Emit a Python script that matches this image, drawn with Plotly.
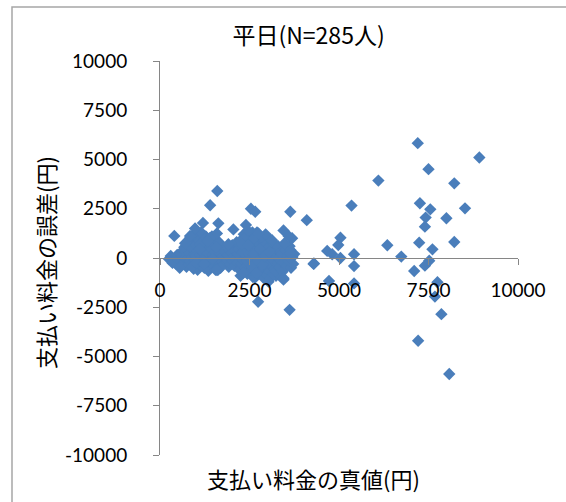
import plotly.graph_objects as go

# 支払い料金の真値 (円) と 誤差 (円) — 平日 285 人分
true_yen = [
    # 0–500
    250, 300, 380, 420, 450, 480, 350, 500,
    # 500–800
    520, 560, 600, 620, 650, 680, 700, 720, 740, 760, 780, 790, 550, 680,
    # 800–1100
    820, 840, 860, 880, 900, 920, 940, 960, 980, 1000, 1020, 1040, 1060, 1080, 1100,
    850, 950, 1000, 1050, 900,
    # 1100–1400
    1120, 1140, 1160, 1180, 1200, 1220, 1240, 1260, 1280, 1300, 1320, 1340, 1360, 1380,
    1400, 1150, 1250, 1350, 1200, 1300, 1120, 1390,
    # 1400–1800
    1420, 1440, 1460, 1480, 1500, 1520, 1540, 1560, 1580, 1600, 1620, 1640, 1660, 1680,
    1700, 1720, 1740, 1760, 1780, 1450, 1550, 1650, 1750, 1800,
    # 1800–2200
    1820, 1840, 1860, 1880, 1900, 1920, 1940, 1960, 1980, 2000, 2020, 2040, 2060, 2080,
    2100, 2120, 2140, 2160, 2180, 2200,
    # 2200–2600
    2220, 2240, 2260, 2280, 2300, 2320, 2340, 2360, 2380, 2400, 2420, 2440, 2460, 2480,
    2500, 2520, 2540, 2560, 2580, 2600, 2250, 2310, 2370, 2430, 2490, 2550, 2590, 2290,
    2450, 2530,
    # 2600–3000
    2620, 2640, 2660, 2680, 2700, 2720, 2740, 2760, 2780, 2800, 2820, 2840, 2860, 2880,
    2900, 2920, 2940, 2960, 2980, 3000, 2650, 2710, 2770, 2830, 2890, 2950, 2610, 2690,
    2850, 2970,
    # 3000–3400
    3020, 3040, 3060, 3080, 3100, 3120, 3140, 3160, 3180, 3200, 3220, 3240, 3260, 3280,
    3300, 3320, 3340, 3360, 3380, 3400,
    # 3400–3800
    3420, 3460, 3500, 3540, 3560, 3600, 3620, 3660, 3700, 3720, 3750, 3480,
    # additional low-value respondents
    2330, 2470, 2570, 2630, 2730, 2790, 2870, 2930, 3050, 3150, 1010, 1110, 1230, 1330,
    1470, 1570, 1690, 1910,
    # larger errors below 4000
    1600, 1400, 2540, 2660, 3640, 400, 980, 1200, 1630, 2050, 2400, 700, 840, 1590,
    3450, 3690, 3590, 3130, 2750, 3640, 3640, 3640, 4100,
    1590, 2700, 3080, 3450, 3450, 3030, 2740, 3620,
    # 4000–5500
    5350, 5040, 4980, 4670, 4810, 5040, 5420, 4290, 5420, 4720, 5420, 4300,
    # 6000 and above
    7200, 8920, 7500, 6100, 8220, 7260, 7550, 8520, 7420, 8000, 7400, 6350, 7240, 8220,
    7610, 6740, 7520, 7400, 7100, 7750, 7680, 7860, 7210, 8080,
]

error_yen = [
    # 0–500
    -50, 100, -150, 0, -300, 150, -250, 50,
    # 500–800
    -100, 200, -350, 100, 400, -200, 0, 300, -450, 150, -50, 600, -500, 550,
    # 800–1100
    250, -150, 800, -300, 50, 450, -550, 200, -100, 650, -400, 350, 0, 900, -250,
    1050, 1200, 100, -600, -450,
    # 1100–1400
    150, -350, 500, -100, 800, 250, -500, 50, 1100, -200, 400, -50, 650, -400,
    200, 1300, 950, -650, -150, 300, 700, 1000,
    # 1400–1800
    -100, 450, -300, 150, 700, -450, 300, -150, 900, 50, -600, 500, -250, 250,
    -50, 650, -350, 100, 400, 1100, -600, 800, -200, 0,
    # 1800–2200
    300, -250, 550, -100, 150, -450, 400, 0, -300, 250, 650, -150, 100, -400,
    350, -50, 800, -250, 200, 450,
    # 2200–2600
    -600, 100, 900, -300, 550, -100, 1200, 250, -500, 750, 0, -800, 400, 1000,
    -200, 600, -650, 150, 1300, -350, -900, 300, 1000, -150, 200, 850, -950, 700,
    1400, -50,
    # 2600–3000
    500, -100, 950, -550, 250, 1100, -300, 700, 50, -800, 400, -200, 900, 150,
    -600, 600, -50, 300, -400, 800, -1000, 1300, -700, 1050, -1000, 1200, 200, -250,
    500, -850,
    # 3000–3400
    -200, 550, -700, 100, 900, -400, 300, -100, 700, -550, 150, -900, 450, -250,
    600, 0, -450, 300, -150, 200,
    # 3400–3800
    -700, -200, 400, -400, 100, -150, 600, -500, 50, -300, 200, 750,
    # additional low-value respondents
    -750, 650, -450, 1000, -150, 450, -350, 100, 300, -800, -250, 450, -300, 850,
    -50, 550, -500, 700,
    # larger errors below 4000
    3400, 2680, 2500, 2350, 2350, 1120, 1500, 1780, 1760, 1450, 1680, 750, 1120, 1250,
    1400, 1000, 1120, 900, 1250, 400, 0, 240, 1920,
    -610, -780, -1030, -1100, -1030, -1200, -2220, -2630,
    # 4000–5500
    2660, 1030, 660, 360, 190, 0, 190, -300, -410, -1170, -1290, -280,
    # 6000 and above
    5830, 5100, 4510, 3930, 3790, 2780, 2470, 2520, 2050, 2020, 1590, 650, 780, 810,
    440, 70, -140, -390, -660, -1230, -1960, -2850, -4200, -5890,
]

x_ticks = [0, 2500, 5000, 7500, 10000]
x_tick_text = ["0", "2500", "5000", "7500", "10000"]
y_ticks = [-10000, -7500, -5000, -2500, 0, 2500, 5000, 7500, 10000]
y_tick_text = ["-10000", "-7500", "-5000", "-2500", "0", "2500", "5000", "7500", "10000"]

title_text = "平日(N=285人)"
x_title = "支払い料金の真値(円)"
y_title = "支払い料金の誤差(円)"

JP_FONT = "Noto Sans CJK JP"
NUM_FONT = "Lato, Noto Sans CJK JP"
AXIS_GREY = "#868686"

fig = go.Figure(
    go.Scatter(
        x=true_yen,
        y=error_yen,
        mode="markers",
        marker=dict(symbol="diamond", size=9.5, color="#4A7EBB", line=dict(width=0)),
        hoverinfo="x+y",
    )
)

fig.update_layout(
    width=566,
    height=502,
    margin=dict(l=160, r=48, t=61, b=47),
    paper_bgcolor="white",
    plot_bgcolor="white",
    showlegend=False,
    title=dict(
        text=title_text,
        font=dict(family=JP_FONT, size=23, color="black"),
        xref="paper",
        x=0.415,
        xanchor="center",
        yref="container",
        y=1 - 36 / 502,
        yanchor="middle",
    ),
    xaxis=dict(
        range=[0, 10000],
        tickvals=x_ticks,
        ticktext=x_tick_text,
        anchor="free",
        position=0.5,
        showline=True,
        linecolor=AXIS_GREY,
        linewidth=1,
        ticks="outside",
        ticklen=6,
        tickcolor=AXIS_GREY,
        showgrid=False,
        zeroline=False,
        tickfont=dict(family=NUM_FONT, size=19, color="black"),
        ticklabelstandoff=9,
    ),
    yaxis=dict(
        range=[-10000, 10000],
        tickvals=y_ticks,
        ticktext=y_tick_text,
        showline=True,
        linecolor=AXIS_GREY,
        linewidth=1,
        ticks="outside",
        ticklen=6,
        tickcolor=AXIS_GREY,
        showgrid=False,
        zeroline=False,
        tickfont=dict(family=NUM_FONT, size=19, color="black"),
        ticklabelstandoff=22,
    ),
    annotations=[
        dict(
            text=x_title,
            xref="paper", yref="paper",
            x=0.43, y=-0.058,
            xanchor="center", yanchor="middle",
            showarrow=False,
            font=dict(family=JP_FONT, size=22, color="black"),
        ),
        dict(
            text=y_title,
            xref="paper", yref="paper",
            x=(45 - 160) / 358, y=0.49,
            xanchor="center", yanchor="middle",
            textangle=-90,
            showarrow=False,
            font=dict(family=JP_FONT, size=22, color="black"),
        ),
    ],
    shapes=[
        dict(
            type="rect",
            xref="paper", yref="paper",
            x0=(12 - 160) / 358, x1=1.3,
            y0=-0.3, y1=1 + (61 - 7) / 394,
            line=dict(color="#A6A6A6", width=1.5),
            fillcolor="rgba(0,0,0,0)",
            layer="below",
        )
    ],
)

fig.write_html("out.html")
